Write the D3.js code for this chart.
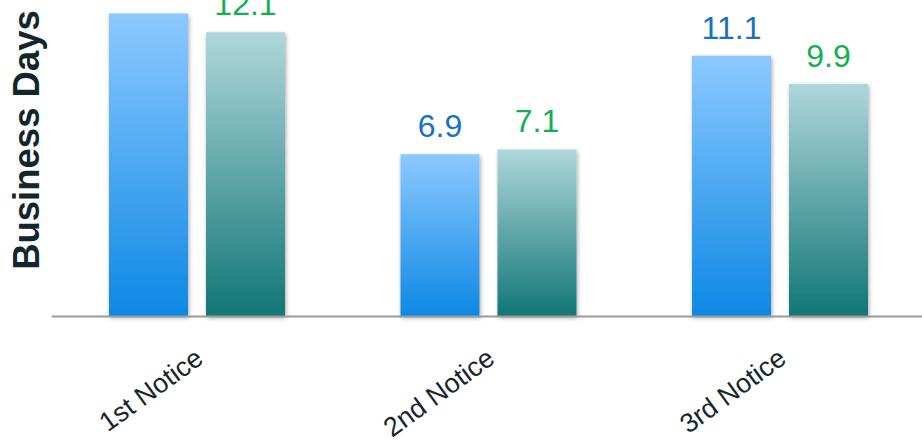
<!DOCTYPE html>
<html><head><meta charset="utf-8">
<script src="https://cdn.jsdelivr.net/npm/d3@7"></script>
<style>html,body{margin:0;padding:0;background:#fff;overflow:hidden}</style>
</head><body>
<svg id="chart" width="922" height="447"></svg>
<script>
const categories = ["1st Notice", "2nd Notice", "3rd Notice"];
const seriesNames = ["A", "B"];
const seriesA = [12.9, 6.9, 11.1];
const seriesB = [12.1, 7.1, 9.9];
const yTitle = "Business Days";

const svg = d3.select("#chart");
const W = 922, H = 447;
const base = 316;

const defs = svg.append("defs");
const gA = defs.append("linearGradient").attr("id","gA").attr("x1",0).attr("y1",0).attr("x2",0).attr("y2",1);
gA.append("stop").attr("offset","0%").attr("stop-color","#8CC9FF");
gA.append("stop").attr("offset","100%").attr("stop-color","#0E88E4");
const gB = defs.append("linearGradient").attr("id","gB").attr("x1",0).attr("y1",0).attr("x2",0).attr("y2",1);
gB.append("stop").attr("offset","0%").attr("stop-color","#AFD7DC");
gB.append("stop").attr("offset","100%").attr("stop-color","#117676");
const f = defs.append("filter").attr("id","sh").attr("x","-20%").attr("y","-10%").attr("width","140%").attr("height","130%");
f.append("feDropShadow").attr("dx",1).attr("dy",2).attr("stdDeviation",2.2).attr("flood-color","#000").attr("flood-opacity",0.35);

const x0 = d3.scaleBand().domain(categories).range([51.25, 925.75]).padding(0);
const x1 = d3.scaleBand().domain(seriesNames).range([-88, 88]).paddingInner(0.1856).paddingOuter(0);
const y = d3.scaleLinear().domain([0, 13.475]).range([base, 0]);

const data = [];
categories.forEach((c,i)=>{
  data.push({cat:c, s:"A", v:seriesA[i]});
  data.push({cat:c, s:"B", v:seriesB[i]});
});

const g = svg.append("g");
g.selectAll("rect.bar").data(data).enter().append("rect")
  .attr("class","bar")
  .attr("x", d => x0(d.cat) + x0.bandwidth()/2 + x1(d.s))
  .attr("y", d => y(d.v))
  .attr("width", x1.bandwidth())
  .attr("height", d => base - y(d.v))
  .attr("fill", d => d.s==="A" ? "url(#gA)" : "url(#gB)")
  .attr("filter","url(#sh)");

// baseline axis
const xAxis = d3.axisBottom(x0).tickSize(0).tickFormat("");
const ax = svg.append("g").attr("transform",`translate(0,${base})`).call(xAxis);
ax.select(".domain").attr("stroke","#9a9a9a").attr("stroke-width",2);

// category labels
svg.selectAll("text.cat").data(categories).enter().append("text")
  .attr("class","cat")
  .attr("transform", d => `translate(${x0(d)+x0.bandwidth()/2+8},${362}) rotate(-36)`)
  .attr("text-anchor","end")
  .attr("font-family","Liberation Sans, Arial, sans-serif")
  .attr("font-size",27)
  .attr("fill","#17262a")
  .text(d=>d);

// value labels
svg.selectAll("text.val").data(data).enter().append("text")
  .attr("class","val")
  .attr("x", d => x0(d.cat) + x0.bandwidth()/2 + x1(d.s) + x1.bandwidth()/2)
  .attr("y", d => y(d.v) - 17)
  .attr("text-anchor","middle")
  .attr("font-family","Liberation Sans, Arial, sans-serif")
  .attr("font-size",32)
  .attr("fill", d => d.s==="A" ? "#1672C4" : "#12B050")
  .text(d => d.v.toFixed(1));

// y title
svg.append("text")
  .attr("transform","translate(39,140) rotate(-90)")
  .attr("text-anchor","middle")
  .attr("font-family","Liberation Sans, Arial, sans-serif")
  .attr("font-weight","bold")
  .attr("font-size",36.5)
  .attr("fill","#12262b")
  .text(yTitle);
</script>
</body></html>
